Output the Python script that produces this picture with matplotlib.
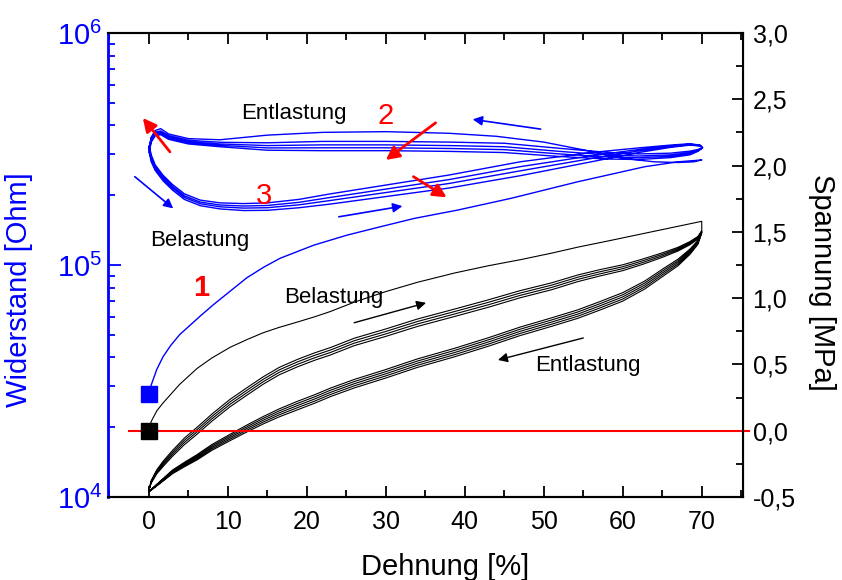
import numpy as np
import matplotlib
matplotlib.use('Agg')
import matplotlib.pyplot as plt
from matplotlib.ticker import MultipleLocator, LogLocator, NullFormatter, FixedLocator

plt.rcParams['font.family'] = ['Liberation Sans', 'DejaVu Sans']

# ---- resistance (blue, log axis), values as log10(Ohm) ----
blue_load1_x = [0, 0.3, 1.0, 1.8, 2.8, 3.9, 5.2, 6.5, 8.2, 10.2, 12.4, 14.5, 16.6, 20.9,
                25.1, 29.3, 33.6, 39.1, 45.9, 54.3, 62.8, 67, 70]
blue_load1_y = [4.445, 4.483, 4.55, 4.605, 4.655, 4.70, 4.74, 4.78, 4.83, 4.885, 4.945, 4.99,
                5.029, 5.086, 5.129, 5.165, 5.201, 5.237, 5.288, 5.359, 5.424, 5.445, 5.453]

# first unloading (top line of the upper bundle)
blue_unl1_x = [70, 69, 67, 64, 60, 56, 50, 44, 38, 30, 22, 15, 9, 5, 2.5, 1.5, 0.8, 0.3, 0.05]
blue_unl1_y = [5.453, 5.445, 5.442, 5.445, 5.46, 5.49, 5.53, 5.555, 5.568, 5.575, 5.572, 5.56,
               5.54, 5.545, 5.565, 5.588, 5.58, 5.55, 5.50]

# later unloadings: centre line and half width of the bundle
blue_unl_x = [70.1, 69.5, 68.5, 66, 62, 58, 52, 45, 38, 30, 22, 15, 9, 5, 2.5, 1.5, 0.8, 0.3, 0.05]
blue_unl_c = [5.505, 5.495, 5.485, 5.475, 5.47, 5.475, 5.49, 5.51, 5.515, 5.518, 5.518, 5.515,
              5.522, 5.532, 5.552, 5.572, 5.567, 5.542, 5.50]
blue_unl_w = [0.0, 0.005, 0.01, 0.012, 0.015, 0.018, 0.022, 0.025, 0.025, 0.025, 0.025, 0.02,
              0.012, 0.01, 0.01, 0.01, 0.01, 0.012, 0.015]
blue_unl_frac = [0.6, 0.0, -0.5, -1.0]

# reloadings: centre line and half width
blue_rel_x = [0.05, 0.3, 0.8, 1.8, 3, 4.5, 6.5, 9, 12, 15, 19, 23, 30, 38, 47, 56, 62, 66,
              68.5, 69.8, 70.1]
blue_rel_c = [5.50, 5.46, 5.42, 5.375, 5.335, 5.295, 5.268, 5.255, 5.25, 5.252, 5.265, 5.285,
              5.32, 5.36, 5.415, 5.465, 5.495, 5.512, 5.52, 5.515, 5.505]
blue_rel_w = [0.015, 0.015, 0.012, 0.012, 0.012, 0.012, 0.012, 0.013, 0.015, 0.016, 0.018,
              0.022, 0.025, 0.028, 0.03, 0.02, 0.01, 0.005, 0.003, 0.002, 0.0]
blue_rel_frac = [1.0, 0.3, -0.3, -1.0]

# ---- stress (black, right axis) in MPa ----
blk_load1_x = [0, 0.3, 1, 1.8, 3, 3.9, 5, 6.1, 8, 10.3, 12.5, 14.5, 16.5, 18.8, 21, 23, 26,
               30, 34, 38.7, 43, 47, 51, 54.3, 58, 62.8, 66, 70]
blk_load1_y = [0, 0.07, 0.15, 0.21, 0.29, 0.35, 0.41, 0.47, 0.55, 0.63, 0.69, 0.74, 0.78,
               0.82, 0.86, 0.90, 0.97, 1.05, 1.12, 1.19, 1.245, 1.29, 1.34, 1.385, 1.43,
               1.49, 1.53, 1.58]

# reloadings (cycles 2-5): centre line and half width of the band
blk_rel_x = [0, 0.3, 1, 1.8, 3, 4.5, 6.1, 8, 10.3, 12.5, 14.5, 16.5, 18.8, 21, 23, 26, 30,
             34, 38.7, 43, 47, 51, 54.3, 57, 60, 62.5, 65, 67, 68.5, 69.5, 70]
blk_rel_y = [-0.45, -0.385, -0.31, -0.25, -0.17, -0.08, 0.0, 0.10, 0.21, 0.30, 0.38, 0.45,
             0.51, 0.56, 0.60, 0.67, 0.74, 0.815, 0.89, 0.96, 1.03, 1.09, 1.15, 1.19, 1.23,
             1.275, 1.325, 1.37, 1.415, 1.455, 1.50]
blk_rel_w = [0.0, 0.01, 0.015, 0.02, 0.022, 0.025, 0.026, 0.027, 0.028, 0.028, 0.028, 0.028,
             0.028, 0.028, 0.028, 0.028, 0.028, 0.028, 0.028, 0.028, 0.027, 0.026, 0.025,
             0.024, 0.022, 0.02, 0.017, 0.014, 0.012, 0.01, 0.008]
blk_rel_frac = [1.0, 0.33, -0.33, -1.0]

# unloadings (cycles 1-5)
blk_unl_x = [70, 69.5, 68.5, 67, 65, 62.8, 60, 57, 54.3, 51, 47, 43, 38.7, 34, 30, 26, 23,
             21, 18.8, 16.5, 14.5, 12.5, 10.3, 8, 6.1, 4.5, 3, 1.8, 0.8, 0]
blk_unl_y = [1.50, 1.42, 1.35, 1.27, 1.19, 1.10, 1.01, 0.94, 0.88, 0.82, 0.75, 0.67, 0.59,
             0.51, 0.43, 0.355, 0.29, 0.24, 0.19, 0.135, 0.08, 0.02, -0.05, -0.125, -0.20,
             -0.255, -0.31, -0.37, -0.42, -0.46]
blk_unl_w = [0.01, 0.015, 0.02, 0.025, 0.028, 0.03, 0.032, 0.032, 0.032, 0.032, 0.032, 0.032,
             0.032, 0.032, 0.032, 0.032, 0.032, 0.032, 0.032, 0.03, 0.028, 0.026, 0.024,
             0.022, 0.02, 0.017, 0.014, 0.01, 0.006, 0.0]
blk_unl_frac = [1.0, 0.5, 0.0, -0.5, -1.0]

# ---- build the continuous test paths ----
bx = list(blue_load1_x) + list(blue_unl1_x)
by = list(blue_load1_y) + list(blue_unl1_y)
for fr, fu in zip(blue_rel_frac, blue_unl_frac):
    bx += blue_rel_x
    by += list(np.array(blue_rel_c) + fr * np.array(blue_rel_w))
    bx += blue_unl_x
    by += list(np.array(blue_unl_c) + fu * np.array(blue_unl_w))
bR = 10 ** np.array(by)

kx = list(blk_load1_x) + list(blk_unl_x)
ky = list(blk_load1_y) + list(np.array(blk_unl_y) + blk_unl_frac[0] * np.array(blk_unl_w))
for i in range(4):
    kx += blk_rel_x
    ky += list(np.array(blk_rel_y) + blk_rel_frac[i] * np.array(blk_rel_w))
    kx += blk_unl_x
    ky += list(np.array(blk_unl_y) + blk_unl_frac[i + 1] * np.array(blk_unl_w))

fig = plt.figure(figsize=(8.42, 5.8), dpi=100)
ax1 = fig.add_axes([0.128, 0.143, 0.7542, 0.8])
ax2 = ax1.twinx()

ax1.plot(bx, bR, color='#0000ff', lw=1.0, zorder=3)
ax1.plot([0], [10 ** 4.445], 's', color='#0000ff', ms=12, zorder=4)
ax2.plot(kx, ky, color='black', lw=0.8)
ax2.plot([-2.5, 76], [0, 0], color='red', lw=1.5, clip_on=False)
ax2.plot([0], [0], 's', color='black', ms=12)

ax1.set_yscale('log')
ax1.set_ylim(1e4, 1e6)
ax1.set_xlim(-5.2, 75.2)
ax2.set_ylim(-0.5, 3.0)

# axes styling
for s in ['top', 'bottom']:
    ax1.spines[s].set_linewidth(1.5)
ax1.spines['left'].set_color('#0000ff')
ax1.spines['left'].set_linewidth(2)
ax2.spines['left'].set_visible(False)
ax2.spines['right'].set_linewidth(1.5)
ax2.spines['top'].set_linewidth(1.5)
ax2.spines['bottom'].set_linewidth(1.5)

ax1.xaxis.set_major_locator(MultipleLocator(10))
ax1.xaxis.set_minor_locator(MultipleLocator(5))
ax1.tick_params(axis='x', which='both', direction='in', top=True, labelsize=18, pad=9, width=1.3)
ax1.tick_params(axis='x', which='major', length=8)
ax1.tick_params(axis='x', which='minor', length=5)

ax1.yaxis.set_major_locator(FixedLocator([1e4, 1e5, 1e6]))
ax1.yaxis.set_minor_locator(LogLocator(base=10, subs=np.arange(2, 10)))
ax1.yaxis.set_minor_formatter(NullFormatter())
ax1.set_yticklabels([r'$\mathregular{10^{4}}$', r'$\mathregular{10^{5}}$', r'$\mathregular{10^{6}}$'])
ax1.tick_params(axis='y', which='both', direction='in', colors='#0000ff', labelsize=21, pad=4, width=1.3)
ax1.tick_params(axis='y', which='major', length=9)
ax1.tick_params(axis='y', which='minor', length=5)

stress_ticks = [-0.5, 0.0, 0.5, 1.0, 1.5, 2.0, 2.5, 3.0]
ax2.yaxis.set_major_locator(FixedLocator(stress_ticks))
ax2.set_yticklabels([f'{v:.1f}'.replace('.', ',') for v in stress_ticks])
ax2.yaxis.set_minor_locator(MultipleLocator(0.25))
ax2.tick_params(axis='y', which='both', direction='in', labelsize=18, pad=7, width=1.3)
ax2.tick_params(axis='y', which='major', length=8)
ax2.tick_params(axis='y', which='minor', length=5)

ax1.set_xlabel('Dehnung [%]', fontsize=21)
ax1.xaxis.set_label_coords(0.531, -0.12)
ax1.set_ylabel('Widerstand [Ohm]', fontsize=21, color='#0000ff')
ax1.yaxis.set_label_coords(-0.118, 0.446)
ax2.set_ylabel('Spannung [MPa]', fontsize=21, rotation=270, va='center')
ax2.yaxis.set_label_coords(1.124, 0.463)

# annotations
txt = dict(fontsize=16, ha='center', va='center')
ax2.text(18.3, 2.396, 'Entlastung', **txt)
ax2.text(6.5, 1.438, 'Belastung', **txt)
ax2.text(23.4, 1.008, 'Belastung', **txt)
ax2.text(55.6, 0.496, 'Entlastung', **txt)
num = dict(fontsize=21, ha='center', va='center', color='red')
ax2.text(30.0, 2.373, '2', **num)
ax2.text(14.6, 1.77, '3', **num)
ax2.text(6.6, 1.076, '1', fontweight='bold', **num)


def arrow(ax, tail, head, color, lw, ms):
    ax.annotate('', xy=head, xytext=tail,
                arrowprops=dict(arrowstyle='-|>', color=color, lw=lw,
                                mutation_scale=ms, shrinkA=0, shrinkB=0))


# red arrows (log axis)
arrow(ax1, (2.67, 10 ** 5.488), (-0.76, 10 ** 5.634), 'red', 2, 20)
arrow(ax1, (36.3, 10 ** 5.613), (30.0, 10 ** 5.453), 'red', 2, 20)
arrow(ax1, (33.5, 10 ** 5.381), (37.7, 10 ** 5.292), 'red', 2, 20)
# blue arrows
arrow(ax1, (-1.78, 10 ** 5.381), (3.09, 10 ** 5.244), '#0000ff', 1.2, 14)
arrow(ax1, (24.05, 10 ** 5.208), (32.1, 10 ** 5.254), '#0000ff', 1.2, 14)
arrow(ax1, (49.6, 10 ** 5.586), (41.0, 10 ** 5.628), '#0000ff', 1.2, 14)
# black arrows
arrow(ax2, (26.0, 0.815), (35.1, 0.965), 'black', 1.0, 14)
arrow(ax2, (55.0, 0.70), (44.2, 0.534), 'black', 1.0, 14)

fig.savefig('out.png', dpi=100)
